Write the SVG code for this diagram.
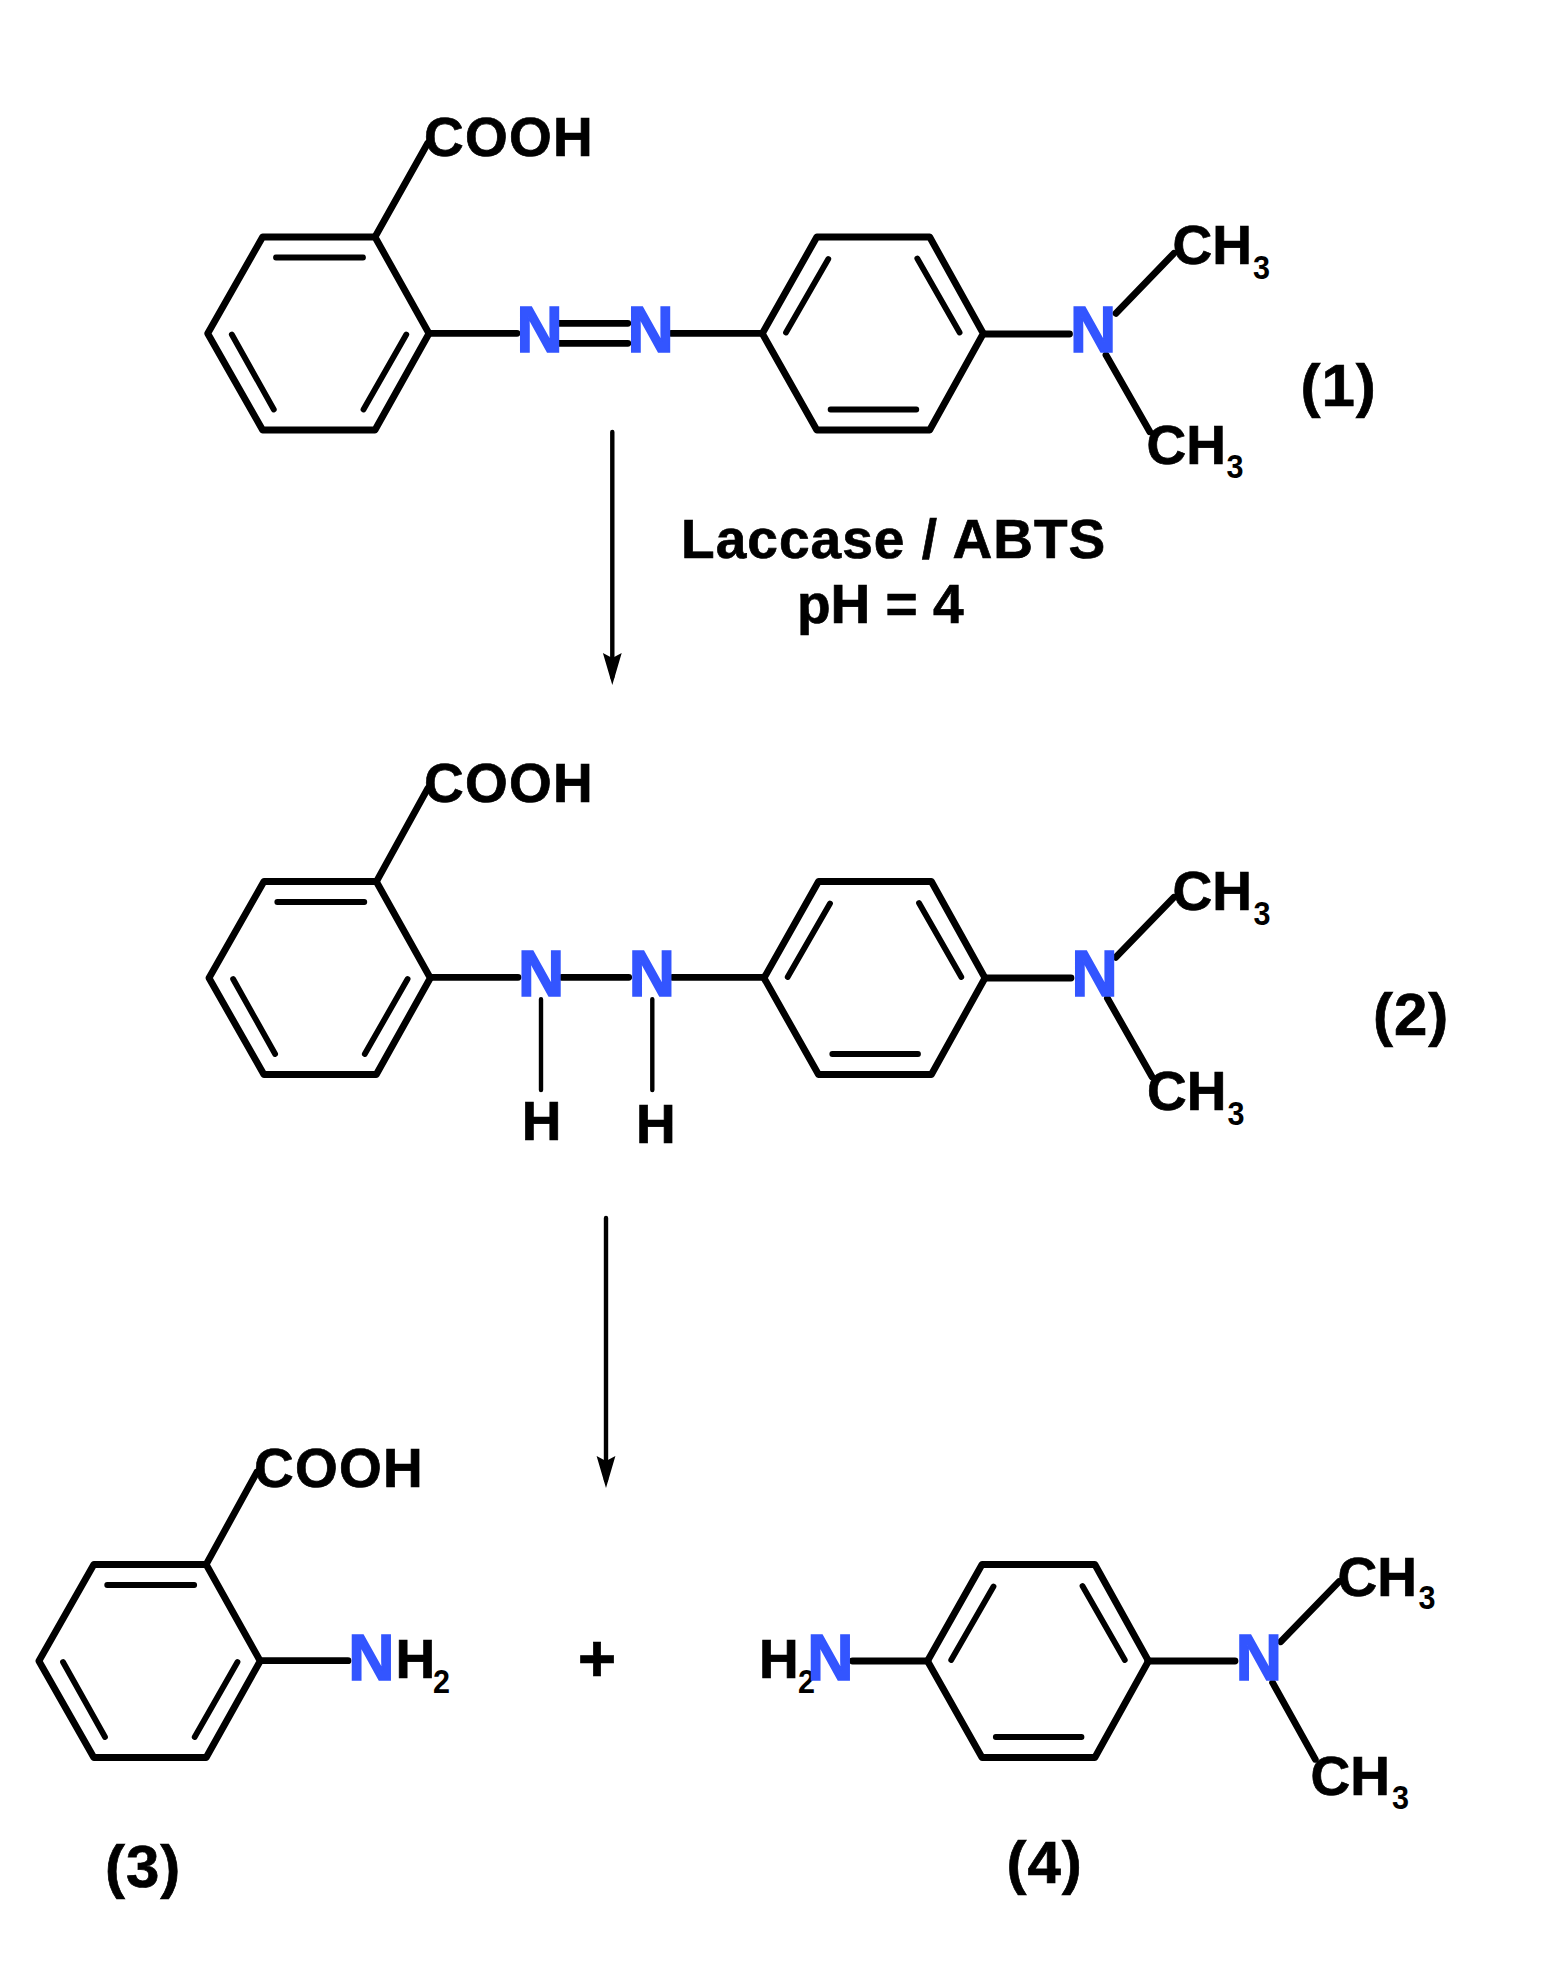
<svg xmlns="http://www.w3.org/2000/svg" width="1568" height="1968" viewBox="0 0 1568 1968">
<defs>
<marker id="ah" markerUnits="userSpaceOnUse" markerWidth="32" markerHeight="20" refX="24" refY="10" orient="auto" viewBox="0 0 32 20"><path d="M0 0.6 L5 10 L0 19.4 L32 10 Z" fill="#000"/></marker>
<g id="ring"><path class="b" d="M-167.3 0 L-112.4 -96.5 L0 -96.5 L54 0 L0 96.5 L-112.4 96.5 Z"/><path class="i" d="M-99 -76 L-12 -76 M-143.2 1 L-101.2 76 M31.3 1 L-11.5 76"/></g>
<g id="pring"><path class="b" d="M0 0 L54.5 -96.5 L167.4 -96.5 L221 0 L167.4 96.5 L54.5 96.5 Z"/><path class="i" d="M23.7 -1 L66 -74.5 M155 -75 L197.3 -1 M68.3 76 L154 76"/></g>
</defs>
<style>
.b{fill:none;stroke:#000;stroke-width:6.8;stroke-linejoin:round;stroke-linecap:round}
.i{fill:none;stroke:#000;stroke-width:5.8;stroke-linecap:round}
.t{font-family:"Liberation Sans",Arial,sans-serif;font-weight:700;font-size:55px;fill:#000;stroke:#000;stroke-width:.7}
.c{letter-spacing:1.2px}
.n{font-family:"Liberation Sans",Arial,sans-serif;font-weight:700;font-size:64px;fill:#3355ff;stroke:#3355ff;stroke-width:1.6;text-anchor:middle}
.s{font-family:"Liberation Sans",Arial,sans-serif;font-weight:700;font-size:34px;fill:#000}
.l{font-family:"Liberation Sans",Arial,sans-serif;font-weight:700;font-size:60px;fill:#000;stroke:#000;stroke-width:.7;letter-spacing:1px}
.a{fill:none;stroke:#000;stroke-width:4.4;stroke-linecap:round}
</style>
<rect width="1568" height="1968" fill="#fff"/>
<g id="connectors">
<path class="a" d="M612.3 432 V677" marker-end="url(#ah)"/>
<path class="a" d="M606 1218 V1480" marker-end="url(#ah)"/>
</g>
<g id="compound-1">
<use href="#ring" x="375" y="333.5"/>
<use href="#pring" x="762.3" y="333.5"/>
<path class="b" d="M375 237 L427.8 143 M429 333.3 H517 M559.5 323.3 H627.8 M559.5 343.3 H627.8 M671 333.3 H761.7 M983.3 334 H1069.5 M1115.9 313.3 L1173.9 253.3 M1106 355 L1149.8 431.7"/>
<text class="t c" x="424" y="155.5">COOH</text>
<text class="n" x="539.6" y="351.7">N</text><text class="n" x="650.5" y="351.7">N</text><text class="n" x="1093" y="351.7">N</text>
<text class="t" x="1172.5" y="264">CH</text><text class="s" x="1253" y="279" textLength="17" lengthAdjust="spacingAndGlyphs">3</text>
<text class="t" x="1146.5" y="464">CH</text><text class="s" x="1226.5" y="478" textLength="17" lengthAdjust="spacingAndGlyphs">3</text>
<text class="l" x="1300.5" y="406">(1)</text>
</g>
<g id="conditions">
<text class="t" x="681" y="558" style="letter-spacing:1.05px">Laccase / ABTS</text>
<text class="t" x="797" y="622.7">pH = 4</text>
</g>
<g id="compound-2">
<use href="#ring" x="376.3" y="978"/>
<use href="#pring" x="764" y="978"/>
<path class="b" d="M376.4 881.7 L427.8 788.3 M432 977.3 H518 M561.7 977.3 H628.7 M672.4 977.3 H762.6 M985 978 H1071 M1115.7 957.3 L1173.8 897.3 M1107.4 998.3 L1152 1076.7"/>
<path class="a" d="M541 999.3 V1090 M652.3 999.3 V1090"/>
<text class="t c" x="424" y="801.5">COOH</text>
<text class="n" x="541.2" y="996">N</text><text class="n" x="651.8" y="996">N</text><text class="n" x="1094.5" y="996">N</text>
<text class="t" x="521.8" y="1140">H</text><text class="t" x="636" y="1142.7">H</text>
<text class="t" x="1172.5" y="910">CH</text><text class="s" x="1253.5" y="925" textLength="17" lengthAdjust="spacingAndGlyphs">3</text>
<text class="t" x="1147" y="1110">CH</text><text class="s" x="1227.5" y="1124.5" textLength="17" lengthAdjust="spacingAndGlyphs">3</text>
<text class="l" x="1373" y="1035">(2)</text>
</g>
<g id="compound-3">
<use href="#ring" x="206.2" y="1661"/>
<path class="b" d="M206.2 1564.3 L257 1472 M261 1660.7 H348"/>
<text class="t c" x="254" y="1486.7">COOH</text>
<text class="n" x="371.3" y="1679.5">N</text>
<text class="t" x="395.5" y="1677.5">H</text><text class="s" x="433" y="1692.5" textLength="17" lengthAdjust="spacingAndGlyphs">2</text>
<text class="l" x="105" y="1887">(3)</text>
</g>
<text id="plus" class="t" x="597" y="1681" text-anchor="middle" style="font-size:66px">+</text>
<g id="compound-4">
<use href="#pring" x="927.5" y="1661"/>
<path class="b" d="M852.5 1661 H928 M1147.7 1661 H1235 M1280.8 1641.7 L1339 1581.7 M1272.6 1682.7 L1315.3 1759.3"/>
<text class="t" x="759" y="1677.5">H</text><text class="s" x="798" y="1692.5" textLength="17" lengthAdjust="spacingAndGlyphs">2</text>
<text class="n" x="830.4" y="1680">N</text><text class="n" x="1258.8" y="1680">N</text>
<text class="t" x="1337.5" y="1596">CH</text><text class="s" x="1418.5" y="1609" textLength="17" lengthAdjust="spacingAndGlyphs">3</text>
<text class="t" x="1310.5" y="1795">CH</text><text class="s" x="1392" y="1809" textLength="17" lengthAdjust="spacingAndGlyphs">3</text>
<text class="l" x="1006.5" y="1883">(4)</text>
</g>
</svg>
